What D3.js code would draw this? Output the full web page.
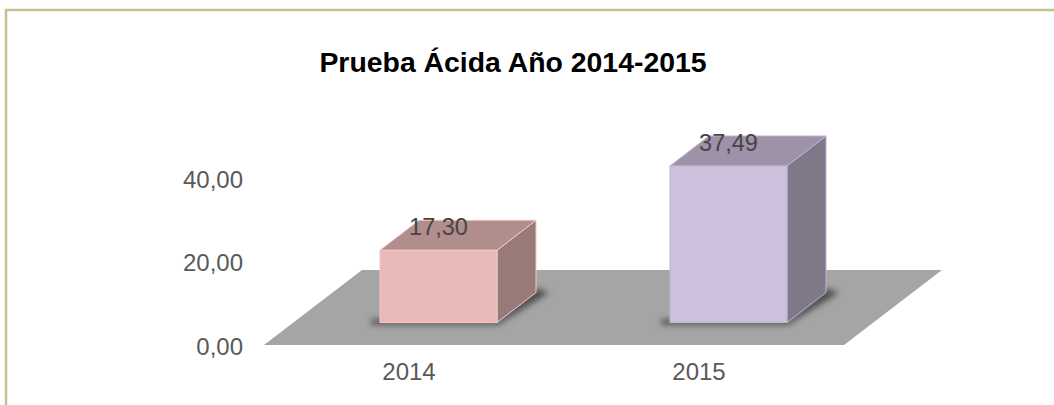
<!DOCTYPE html>
<html>
<head>
<meta charset="utf-8">
<script src="https://cdn.jsdelivr.net/npm/d3@7"></script>
<style>
  html, body { margin: 0; padding: 0; background: #fff; overflow: hidden; }
  text { font-family: "Liberation Sans", Arial, sans-serif; }
</style>
</head>
<body>
<script>
const titleText = "Prueba Ácida Año 2014-2015";
const years = ["2014", "2015"];
const values = [17.30, 37.49];
const yTicks = [0, 20, 40];
const frontColors = ["#e8b9b8", "#ccc0dc"];
const topColors = ["#b18d8b", "#9e92a9"];
const sideColors = ["#987a79", "#7f7889"];
const edgeColors = ["#f0c8c7", "#bfb2d2"];

const W = 1054, H = 405;
const depthX = 39, depthY = 30;   // bar depth
const floorX = 98, floorY = 75;   // floor depth
const textColor = "#454545";

let svg = d3.select("body").append("svg")
    .attr("width", W)
    .attr("height", H)
    .style("display", "block");

let defs = svg.append("defs");
defs.append("filter")
    .attr("id", "blur")
    .attr("x", "-20%").attr("y", "-50%")
    .attr("width", "140%").attr("height", "200%")
    .append("feGaussianBlur")
    .attr("stdDeviation", 3);

// frame
svg.append("path")
    .attr("d", `M6,${H} V10 H${W}`)
    .attr("fill", "none")
    .attr("stroke", "#c9bf95")
    .attr("stroke-width", 2.5);

svg.append("text")
    .attr("x", 513)
    .attr("y", 72)
    .attr("text-anchor", "middle")
    .attr("font-size", 28.4)
    .attr("font-weight", "bold")
    .attr("fill", "#000")
    .text(titleText);

let x = d3.scaleBand().domain(years).range([264, 844]);
let y = d3.scaleLinear().domain([0, 40]).range([345, 178]);
const base = y(0) - 22.5;   // bars stand back from the front of the floor
const barH = (v) => y(0) - y(v);
const barW = 117;
const barX = (d) => x(d) + (x.bandwidth() - barW) / 2 + 29.5;

// floor
const fl = x.range();
svg.append("path")
    .attr("d", `M${fl[0]},${y(0)} L${fl[1]},${y(0)} L${fl[1] + floorX},${y(0) - floorY} L${fl[0] + floorX},${y(0) - floorY} Z`)
    .attr("fill", "#a5a5a5");

let bars = svg.selectAll("g.bar")
    .data(years)
    .enter()
    .append("g")
    .attr("class", "bar");

// shadow
bars.append("path")
    .attr("d", (d) => {
        let l = barX(d), r = l + barW;
        return `M${l - 9},${base + 2} L${r + 1},${base + 2} L${r + depthX + 13},${base - depthY} L${r + depthX},${base - depthY - 4} L${r},${base - 3} L${l - 9},${base - 3} Z`;
    })
    .attr("fill", "#4a4a4a")
    .attr("filter", "url(#blur)");

// side face
bars.append("path")
    .attr("d", (d, i) => {
        let r = barX(d) + barW, t = base - barH(values[i]);
        return `M${r},${base} L${r + depthX},${base - depthY} L${r + depthX},${t - depthY} L${r},${t} Z`;
    })
    .attr("fill", (d, i) => sideColors[i])
    .attr("stroke", (d, i) => edgeColors[i])
    .attr("stroke-width", 1);

// top face
bars.append("path")
    .attr("d", (d, i) => {
        let l = barX(d), r = l + barW, t = base - barH(values[i]);
        return `M${l},${t} L${r},${t} L${r + depthX},${t - depthY} L${l + depthX},${t - depthY} Z`;
    })
    .attr("fill", (d, i) => topColors[i])
    .attr("stroke", (d, i) => edgeColors[i])
    .attr("stroke-width", 1);

// front face
bars.append("rect")
    .attr("x", (d) => barX(d))
    .attr("y", (d, i) => base - barH(values[i]))
    .attr("width", barW)
    .attr("height", (d, i) => barH(values[i]))
    .attr("fill", (d, i) => frontColors[i])
    .attr("stroke", (d, i) => edgeColors[i])
    .attr("stroke-width", 1);

const comma = d3.formatLocale({ decimal: ",", thousands: ".", grouping: [3], currency: ["", ""] }).format(".2f");

// value labels
bars.append("text")
    .attr("x", (d) => barX(d) + barW / 2)
    .attr("y", (d, i) => base - barH(values[i]) - 15)
    .attr("text-anchor", "middle")
    .attr("font-size", 23.5)
    .attr("fill", textColor)
    .text((d, i) => comma(values[i]));

// axes
let yAxis = svg.append("g")
    .attr("transform", "translate(250,1.5)")
    .call(d3.axisLeft(y).tickValues(yTicks).tickFormat(comma).tickSize(0).tickPadding(7));
let xAxis = svg.append("g")
    .attr("transform", `translate(0,${y(0)})`)
    .call(d3.axisBottom(x).tickSize(0).tickPadding(18));

[yAxis, xAxis].forEach((a) => {
    a.select(".domain").remove();
    a.selectAll("text")
        .attr("font-size", 24)
        .attr("fill", "#595959")
        .style("font-family", '"Liberation Sans", Arial, sans-serif');
});
</script>
</body>
</html>
